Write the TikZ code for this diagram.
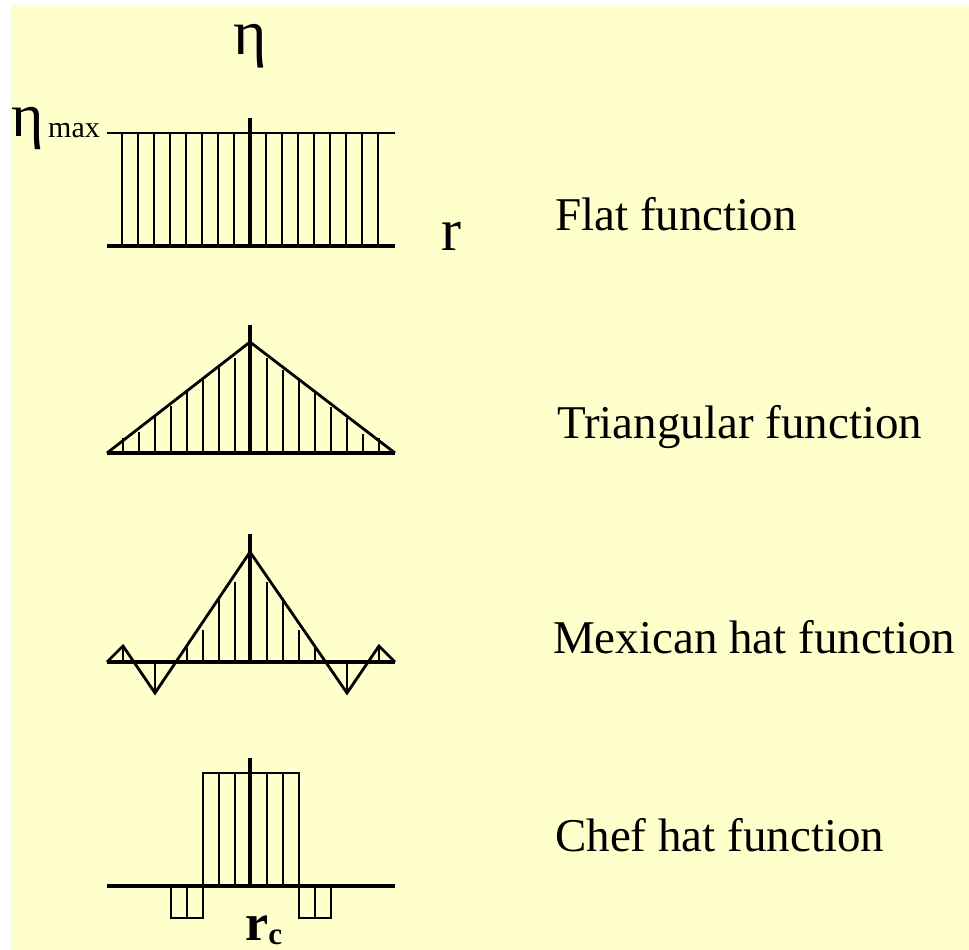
\documentclass[tikz,border=0pt]{standalone}
\usepackage{fontspec}
\setmainfont{Liberation Serif}
\definecolor{bgyellow}{HTML}{FFFFCC}
\begin{document}
\begin{tikzpicture}[x=1pt,y=-1pt,
  thinln/.style={line width=2.3pt},
  thickln/.style={line width=4.2pt},
  edgeln/.style={line width=2.8pt, line join=miter},
  lbl/.style={anchor=base west, inner sep=0pt, font=\fontsize{47}{47}\selectfont}]
\useasboundingbox (0,0) rectangle (969,950);
\fill[bgyellow] (11,5) rectangle (969,950);

% ---- Flat function ----
\foreach \k in {1,...,8} {
  \draw[thinln] (250-16*\k,133) -- (250-16*\k,246);
  \draw[thinln] (250+16*\k,133) -- (250+16*\k,246);
}
\draw[thinln] (107,133) -- (395,133);
\draw[thickln] (107,246) -- (395,246);
\draw[thickln] (250,118) -- (250,246);

% ---- Triangular function ----
\foreach \xx/\yy in {123/438,139/432,155/417,171/406,187/391,203/379,219/367,235/358,
                     267/358,283/370,299/380,315/392,331/407,347/418,363/434,379/438}
  \draw[thinln] (\xx,453) -- (\xx,\yy);
\draw[edgeln] (107,453) -- (250,342) -- (395,453);
\draw[thickln] (107,453) -- (395,453);
\draw[thickln] (250,325) -- (250,453);

% ---- Mexican hat function ----
\foreach \xx/\yy in {123/646,155/693,187/645,203/630,219/598,235/582,
                     267/582,283/598,299/630,315/647,347/693,379/646}
  \draw[thinln] (\xx,662) -- (\xx,\yy);
\draw[edgeln] (107,662) -- (123,646) -- (155,693) -- (250,552) -- (347,693) -- (379,646) -- (395,662);
\draw[thickln] (107,662) -- (395,662);
\draw[thickln] (250,534) -- (250,662);

% ---- Chef hat function ----
\draw[thinln] (203,886) -- (203,773) -- (299,773) -- (299,886);
\foreach \xx in {219,235,267,283}
  \draw[thinln] (\xx,773) -- (\xx,886);
\draw[thinln] (171,886) rectangle (203,918);
\draw[thinln] (187,886) -- (187,918);
\draw[thinln] (299,886) rectangle (331,918);
\draw[thinln] (315,886) -- (315,918);
\draw[thickln] (107,886) -- (395,886);
\draw[thickln] (250,758) -- (250,886);

% ---- labels ----
\node[anchor=base, inner sep=0pt, font=\fontsize{64}{64}\selectfont] (eta) at (250,55) {η};
\node[anchor=base west, inner sep=0pt, font=\fontsize{62}{62}\selectfont] (etamax) at (11,136) {η};
\node[anchor=base west, inner sep=0pt, font=\fontsize{30}{30}\selectfont] (maxlbl) at (48,137) {max};
\node[anchor=base west, inner sep=0pt, font=\fontsize{60}{60}\selectfont] (rlbl) at (441,250) {r};
\node[anchor=base west, inner sep=0pt] (rc) at (245,940)
  {\fontsize{52}{52}\selectfont\bfseries r\raisebox{-4pt}{\fontsize{31}{31}\selectfont\bfseries c}};

\node[lbl] (flat) at (555,230) {Flat function};
\node[lbl] (tri) at (557,438) {Triangular function};
\node[lbl] (mex) at (553,653) {Mexican hat function};
\node[lbl] (chef) at (555,851) {Chef hat function};
\end{tikzpicture}
\end{document}
